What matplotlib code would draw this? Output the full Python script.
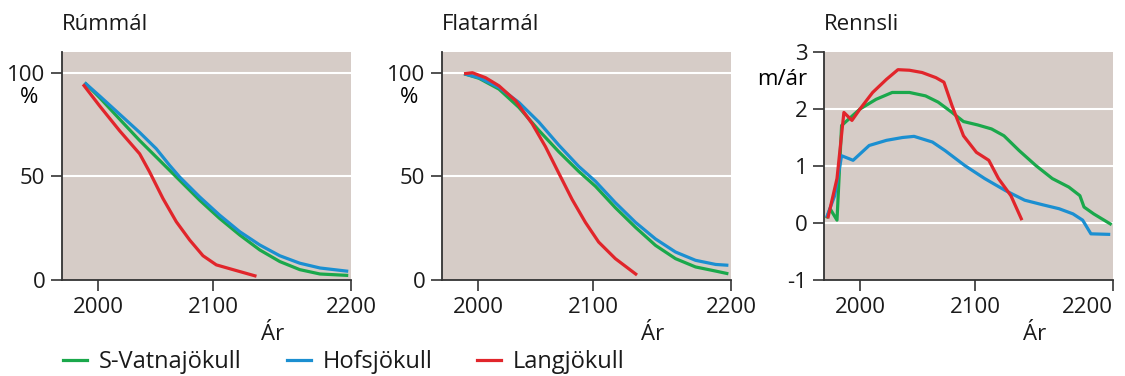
import numpy as np
import matplotlib
matplotlib.use('Agg')
from matplotlib import pyplot as plt

plt.rcParams['font.family'] = ['Open Sans', 'DejaVu Sans']
plt.rcParams['axes.unicode_minus'] = False

# --- Rúmmál (volume, %) ---
vol_vat_x = [1988.4, 2001.4, 2018.8, 2036.2, 2053.6, 2071, 2088.4, 2104.8, 2119.4, 2133.9, 2148.4,
             2162.9, 2177.5, 2198]
vol_vat_y = [95.2, 88.0, 77.6, 67.3, 57.7, 48.1, 38.5, 29.7, 21.7, 14.5, 8.9, 5.0, 2.9, 2.2]
vol_hof_x = [1988.4, 2001.4, 2018.8, 2036.2, 2050.7, 2062.3, 2071, 2088.4, 2104.8, 2119.4, 2133.9,
             2148.4, 2162.9, 2177.5, 2198]
vol_hof_y = [95.2, 88.8, 80.0, 71.2, 63.3, 55.3, 49.7, 40.1, 31.3, 23.3, 16.9, 11.7, 8.1, 5.8, 4.2]
vol_lan_x = [1987, 2001.4, 2018.8, 2036.2, 2044.9, 2056.5, 2068.1, 2079.7, 2091.3, 2102.4, 2114.5, 2131.5]
vol_lan_y = [94.4, 84.0, 72.0, 60.9, 52.1, 39.3, 28.1, 19.3, 11.7, 7.3, 5.0, 1.8]

# --- Flatarmál (area, %) ---
are_vat_x = [1987.9, 2000.9, 2018.2, 2035.5, 2052.9, 2070.2, 2087.6, 2101.8, 2116.2, 2130.8, 2145.3,
             2159.8, 2174.3, 2188.9, 2198.1]
are_vat_y = [99.5, 97.3, 92.1, 83.3, 72.2, 61.9, 52.4, 45.2, 34.9, 25.4, 16.7, 10.3, 6.3, 4.3, 3.0]
are_hof_x = [1987.9, 2000.9, 2018.2, 2035.5, 2052.9, 2070.2, 2087.6, 2101.8, 2116.2, 2130.8, 2145.3,
             2159.8, 2174.3, 2188.9, 2198.1]
are_hof_y = [99.5, 97.6, 92.9, 85.7, 76.2, 65.1, 54.8, 47.6, 37.3, 27.8, 19.8, 13.5, 9.5, 7.5, 7.1]
are_lan_x = [1987.9, 1995.1, 2006.6, 2018.2, 2032.7, 2047.1, 2058.7, 2070.2, 2081.8, 2093.4, 2104.1,
             2116.2, 2131.9]
are_lan_y = [99.5, 100, 97.6, 93.7, 86.5, 75.4, 64.3, 51.6, 38.9, 27.8, 18.3, 10.3, 2.4]

# --- Rennsli (runoff, m/ár) ---
run_vat_x = [1971, 1974, 1980, 1984, 2000, 2014, 2028, 2043, 2057, 2068, 2080, 2090, 2102, 2112, 2121,
             2132, 2144, 2156, 2168, 2176, 2179, 2186, 2199]
run_vat_y = [0.08, 0.25, 0.05, 1.71, 2.0, 2.17, 2.29, 2.29, 2.23, 2.12, 1.94, 1.78, 1.72, 1.65, 1.53,
             1.27, 1.01, 0.78, 0.63, 0.48, 0.28, 0.16, -0.03]
run_hof_x = [1971, 1978, 1984, 1994, 2008, 2023, 2037, 2047, 2063, 2074, 2091, 2107, 2122, 2136,
             2149, 2161, 2171, 2178, 2184, 2198]
run_hof_y = [0.1, 0.48, 1.18, 1.1, 1.36, 1.45, 1.5, 1.52, 1.42, 1.27, 1.01, 0.78, 0.57, 0.4,
             0.32, 0.25, 0.16, 0.05, -0.19, -0.2]
run_lan_x = [1972, 1980, 1986, 1993, 2000, 2011, 2023, 2033, 2043, 2054, 2066, 2073, 2080, 2090,
             2101, 2110, 2117, 2126, 2134]
run_lan_y = [0.08, 0.78, 1.94, 1.8, 2.0, 2.29, 2.52, 2.69, 2.68, 2.64, 2.55, 2.47, 2.06, 1.53,
             1.24, 1.1, 0.78, 0.48, 0.05]

names = ['S-Vatnajökull', 'Hofsjökull', 'Langjökull']
colors = ['#1aa84b', '#1b8fd1', '#e1252b']
bg = '#d6ccc7'

# the original x axis is not evenly spaced between the tick years
yr_pts = [1900, 2000, 2100, 2200, 2300]
px_pts = [-115, 0, 115, 253, 391]
fwd = lambda x: np.interp(x, yr_pts, px_pts)
inv = lambda p: np.interp(p, px_pts, yr_pts)

fig = plt.figure(figsize=(11.25, 3.76), dpi=100)
W, H = 1125, 376
lefts = [62, 442, 824]
top, bottom, wid = 52, 280, 289
fs = 16

panels = [
    ('Rúmmál', [(vol_vat_x, vol_vat_y), (vol_hof_x, vol_hof_y), (vol_lan_x, vol_lan_y)]),
    ('Flatarmál', [(are_vat_x, are_vat_y), (are_hof_x, are_hof_y), (are_lan_x, are_lan_y)]),
    ('Rennsli', [(run_vat_x, run_vat_y), (run_hof_x, run_hof_y), (run_lan_x, run_lan_y)]),
]

for i, (title, series) in enumerate(panels):
    ax = fig.add_axes([lefts[i] / W, 1 - bottom / H, wid / W, (bottom - top) / H])
    ax.set_xscale('function', functions=(fwd, inv))
    ax.set_facecolor(bg)
    for (x, y), c in zip(series, colors):
        ax.plot(x, y, color=c, lw=2.3, solid_joinstyle='round', solid_capstyle='butt')
    ax.set_xlim(1968.7, 2200)
    ax.set_xticks([2000, 2100, 2200])
    ax.set_xticklabels(['2000', '2100', '2200'])
    if i < 2:
        ax.set_ylim(0, 110)
        ax.set_yticks([0, 50, 100])
        grid_at = [50, 100]
        ax.text(-0.114, 0.80, '%', transform=ax.transAxes, ha='center', va='center', fontsize=fs)
    else:
        ax.set_ylim(-1, 3)
        ax.set_yticks([-1, 0, 1, 2, 3])
        grid_at = [0, 1, 2]
        ax.text(-0.145, 0.88, 'm/ár', transform=ax.transAxes, ha='center', va='center', fontsize=fs)
    for g in grid_at:
        ax.axhline(g, color='white', lw=1.5, zorder=0.5)
    ax.tick_params(direction='out', length=8, width=1.2, color='#333333',
                   labelsize=fs, pad=4, labelcolor='#1a1a1a')
    ax.minorticks_off()
    if i == 2:
        lab = ax.get_xticklabels()[-1]
        lab.set_horizontalalignment('right')
    for s in ['top', 'right']:
        ax.spines[s].set_visible(False)
    for s in ['left', 'bottom']:
        ax.spines[s].set_color('#333333')
        ax.spines[s].set_linewidth(1.3)
    ax.text(0, 1.095, title, transform=ax.transAxes, ha='left', va='baseline', fontsize=fs,
            color='#1a1a1a')
    ax.text(0.73, -0.24, 'Ár', transform=ax.transAxes, ha='center', va='center', fontsize=fs,
            color='#1a1a1a')

handles = [plt.Line2D([], [], color=c, lw=2.3) for c in colors]
fig.legend(handles, names, loc='center left', bbox_to_anchor=(63 / W, 1 - 362 / H),
           ncol=3, frameon=False, fontsize=17, handlelength=1.02, handletextpad=0.5,
           columnspacing=1.9, borderpad=0, borderaxespad=0, labelcolor='#1a1a1a')

fig.savefig('out.png', dpi=100)
